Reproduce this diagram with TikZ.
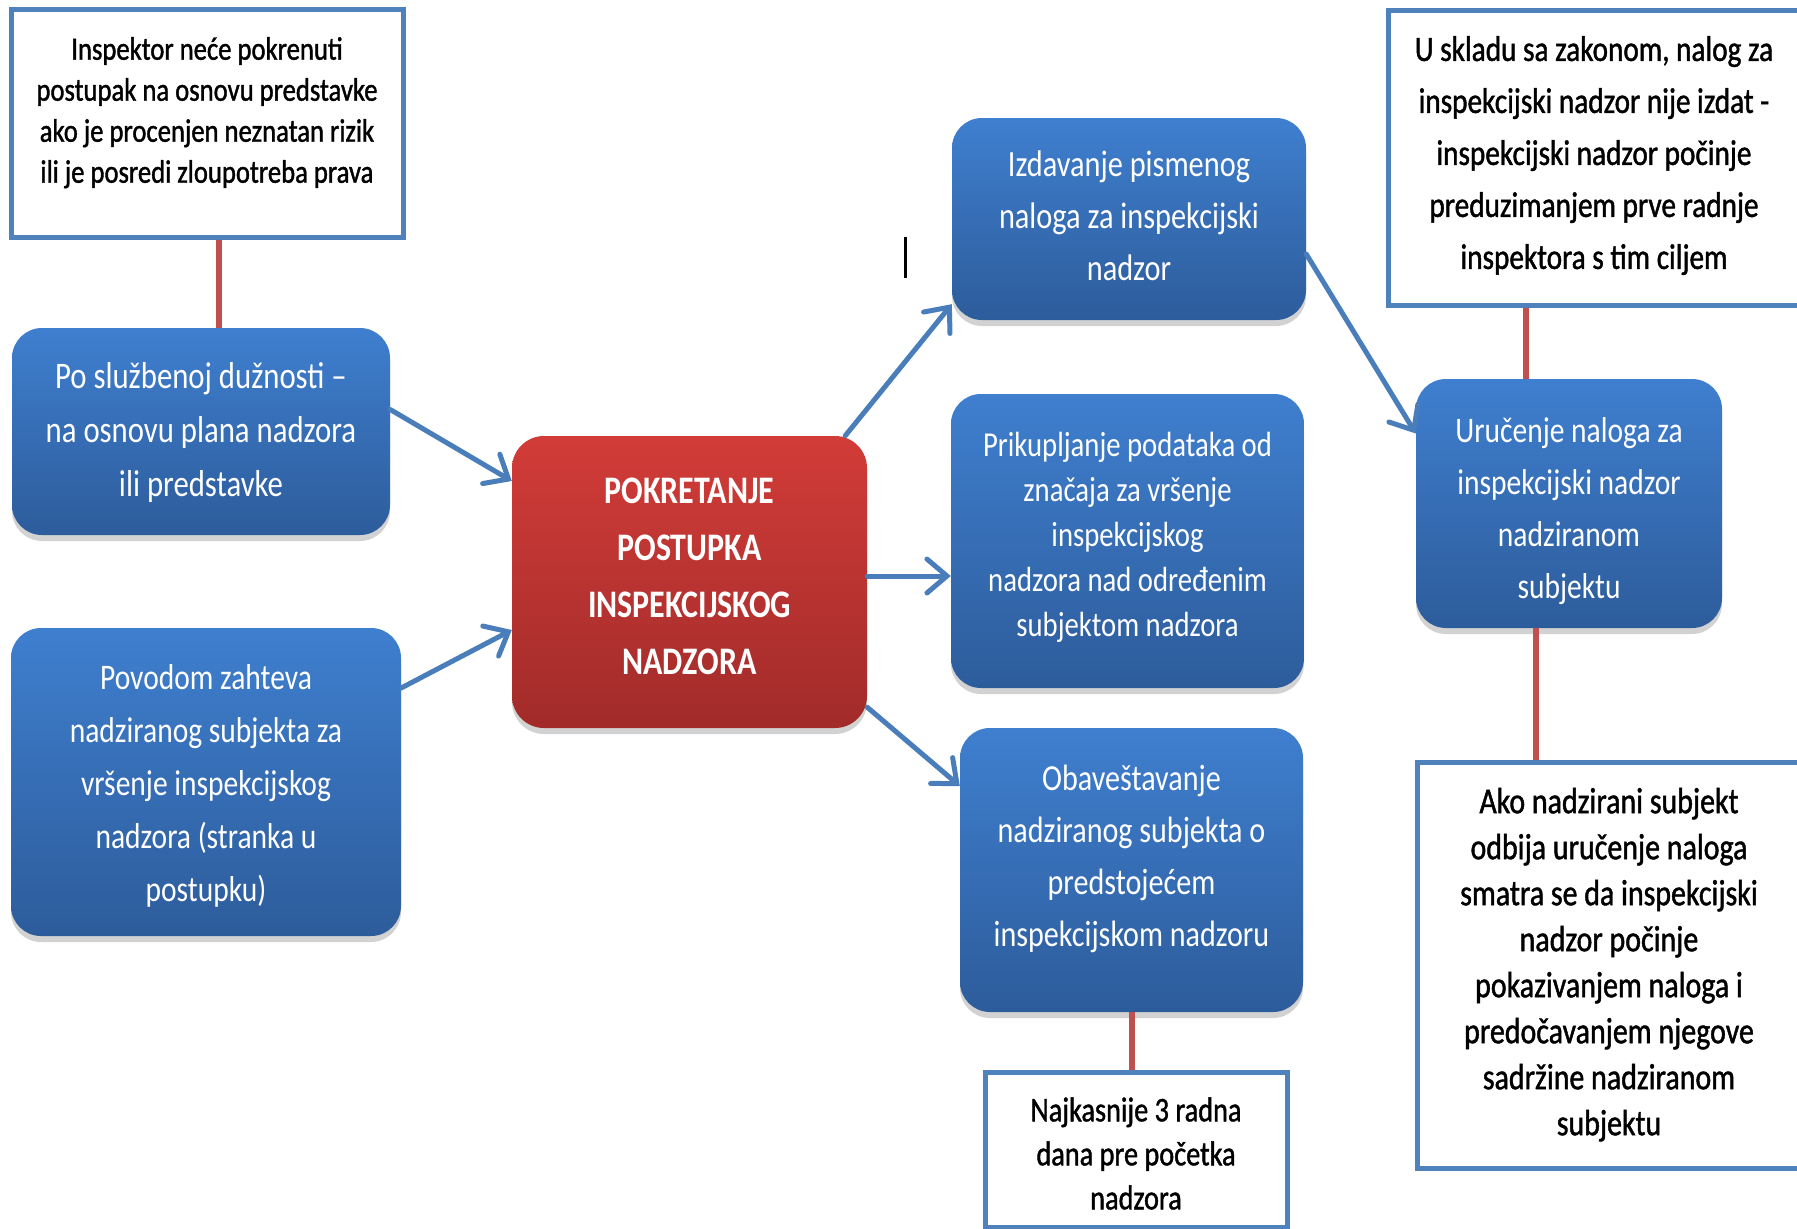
\documentclass[tikz,border=0pt]{standalone}
\usepackage{fontspec}
\setmainfont{Carlito}[FakeStretch=0.82]
\newfontfamily\notefont{Carlito}[FakeStretch=0.82, FakeBold=1.2]
\usetikzlibrary{arrows.meta,shadows}
\definecolor{bluetop}{HTML}{3F7FCF}
\definecolor{bluebot}{HTML}{2D5C9B}
\definecolor{redtop}{HTML}{D23C38}
\definecolor{redbot}{HTML}{A12B2A}
\definecolor{arrowblue}{HTML}{4A7EBB}
\definecolor{frameblue}{HTML}{4F81BD}
\definecolor{linkred}{HTML}{C0504D}
\newcommand{\tlines}[2]{\raisebox{#1}[\height][\depth]{\begin{tabular}{@{}c@{}}#2\end{tabular}}}
\tikzset{
  bluebox/.style={rounded corners=30pt, top color=bluetop, bottom color=bluebot, draw=none,
    text=white, align=center, inner sep=0pt,
    drop shadow={opacity=0.35, shadow xshift=0pt, shadow yshift=-6pt}},
  redbox/.style={rounded corners=32pt, top color=redtop, bottom color=redbot, draw=none,
    text=white, align=center, inner sep=0pt, font=\bfseries\fontsize{39}{57}\selectfont,
    drop shadow={opacity=0.35, shadow xshift=0pt, shadow yshift=-6pt}},
  notebox/.style={draw=frameblue, line width=5pt, fill=white, text=black, align=center, inner sep=0pt},
  flow/.style={draw=arrowblue, line width=5pt, line cap=round,
    -{Straight Barb[length=20pt, width=34pt, line width=5pt, line cap=round]}},
  link/.style={draw=linkred, line width=6pt},
}
\begin{document}
\begin{tikzpicture}[x=1pt, y=-1pt]
\useasboundingbox (0,0) rectangle (1797,1229);
\clip (0,0) rectangle (1797,1229);
\fill[white] (0,0) rectangle (1797,1229);

% note boxes
\node[notebox, minimum width=392pt, minimum height=228pt, font=\notefont\fontsize{32.5}{41}\selectfont] (tl) at (207,123)
  {\tlines{10pt}{Inspektor neće pokrenuti\\postupak na osnovu predstavke\\ako je procenjen neznatan rizik\\ili je posredi zloupotreba prava}};
\node[notebox, minimum width=412pt, minimum height=295pt, font=\notefont\fontsize{35.7}{52}\selectfont] (tr) at (1594,157.5)
  {\tlines{3pt}{U skladu sa zakonom, nalog za\\inspekcijski nadzor nije izdat -\\inspekcijski nadzor počinje\\preduzimanjem prve radnje\\inspektora s tim ciljem}};
\node[notebox, minimum width=384pt, minimum height=406pt, font=\notefont\fontsize{36.5}{46}\selectfont] (br) at (1609,965)
  {\tlines{0pt}{Ako nadzirani subjekt\\odbija uručenje naloga\\smatra se da inspekcijski\\nadzor počinje\\pokazivanjem naloga i\\predočavanjem njegove\\sadržine nadziranom\\subjektu}};
\node[notebox, minimum width=302pt, minimum height=155pt, font=\notefont\fontsize{34.5}{44}\selectfont] (bt) at (1136,1149.5)
  {\tlines{-7pt}{Najkasnije 3 radna\\dana pre početka\\nadzora}};

% blue boxes
\node[bluebox, minimum width=378pt, minimum height=207pt, font=\fontsize{37.5}{54}\selectfont] (b1) at (201,431.5)
  {\tlines{0pt}{Po službenoj dužnosti –\\na osnovu plana nadzora\\ili predstavke}};
\node[bluebox, minimum width=390pt, minimum height=308pt, font=\fontsize{36}{53}\selectfont] (b2) at (206,782)
  {\tlines{-3pt}{Povodom zahteva\\nadziranog subjekta za\\vršenje inspekcijskog\\nadzora (stranka u\\postupku)}};
\node[redbox, minimum width=355pt, minimum height=292pt] (red) at (689.5,582)
  {\tlines{4pt}{POKRETANJE\\POSTUPKA\\INSPEKCIJSKOG\\NADZORA}};
\node[bluebox, minimum width=354pt, minimum height=202pt, font=\fontsize{37}{52}\selectfont] (iz) at (1129,219)
  {\tlines{1pt}{Izdavanje pismenog\\naloga za inspekcijski\\nadzor}};
\node[bluebox, minimum width=353pt, minimum height=294pt, font=\fontsize{35}{45}\selectfont] (pr) at (1127.5,541)
  {\tlines{4pt}{Prikupljanje podataka od\\značaja za vršenje\\inspekcijskog\\nadzora nad određenim\\subjektom nadzora}};
\node[bluebox, minimum width=343pt, minimum height=284pt, font=\fontsize{36.7}{52}\selectfont] (ob) at (1131.5,870)
  {\tlines{12pt}{Obaveštavanje\\nadziranog subjekta o\\predstojećem\\inspekcijskom nadzoru}};
\node[bluebox, minimum width=306pt, minimum height=249pt, font=\fontsize{36}{52}\selectfont] (ur) at (1569,503.5)
  {\tlines{-7pt}{Uručenje naloga za\\inspekcijski nadzor\\nadziranom\\subjektu}};

% red links
\draw[link] ([xshift=12pt]tl.south) -- ([xshift=12pt]tl.south |- b1.north);
\draw[link] ([xshift=-68pt]tr.south) -- ([xshift=-68pt]tr.south |- ur.north);
\draw[link] ([xshift=-33pt]ur.south) -- ([xshift=-33pt]ur.south |- br.north);
\draw[link] (ob.south) -- (ob.south |- bt.north);

% blue arrows
\draw[flow] ([yshift=22pt]b1.east) -- ([yshift=101pt]red.west);
\draw[flow] ([yshift=94pt]b2.east) -- ([yshift=-48pt]red.west);
\draw[flow] ([xshift=-22pt]red.north east) -- ([yshift=16pt]iz.south west);
\draw[flow] ([yshift=6pt]red.east) -- ([yshift=-35pt]pr.west);
\draw[flow] ([yshift=21pt]red.south east) -- ([yshift=84pt]ob.west);
\draw[flow] ([yshift=-35pt]iz.east) -- ([yshift=70pt]ur.west);

% text cursor
\draw[line width=3pt] (905,237) -- (905,278);
\end{tikzpicture}
\end{document}
